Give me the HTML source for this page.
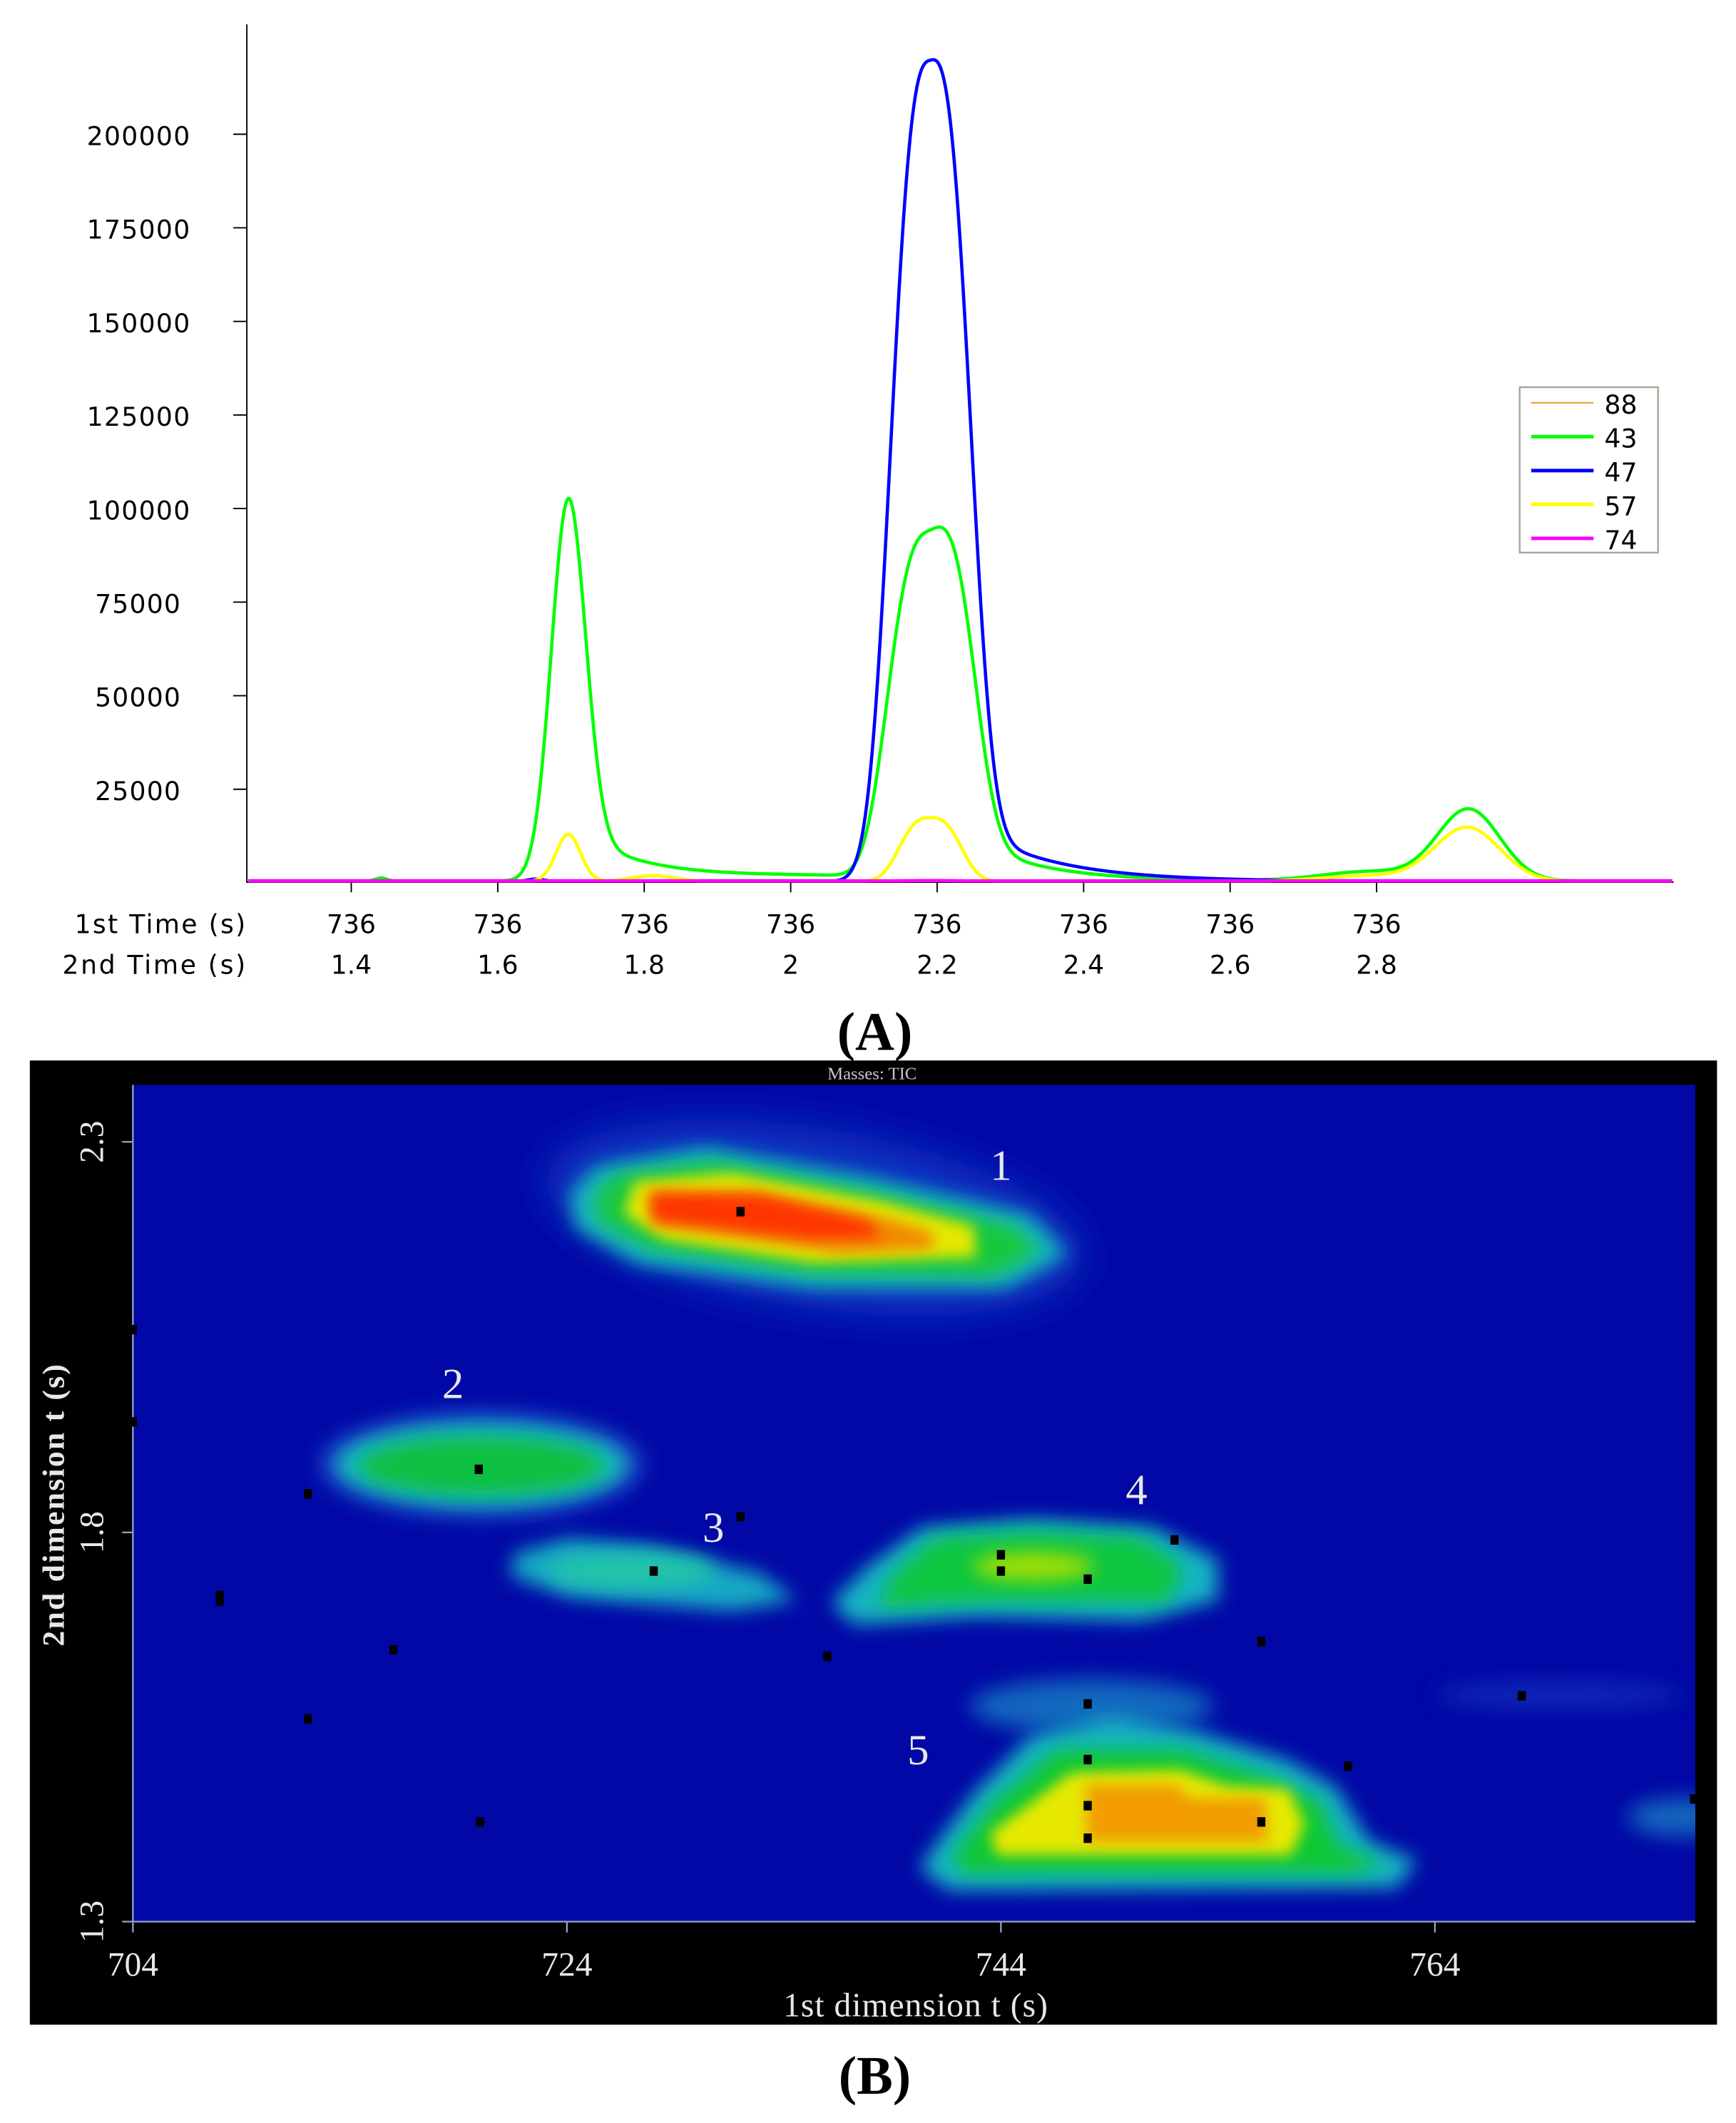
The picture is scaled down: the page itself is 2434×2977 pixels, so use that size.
<!DOCTYPE html>
<html><head><meta charset="utf-8">
<style>
html,body{margin:0;padding:0;background:#fff;}
svg{display:block;}
.t{font-family:"DejaVu Sans","Liberation Sans",sans-serif;font-size:19px;fill:#000;}
.s{font-family:"Liberation Serif",serif;fill:#e8e8e8;}
</style></head>
<body>
<svg id="sv" width="2434" height="2977" viewBox="0 0 1280 1565.5" preserveAspectRatio="none" xmlns="http://www.w3.org/2000/svg">
<defs>
<filter id="b8" x="-50%" y="-50%" width="200%" height="200%"><feGaussianBlur stdDeviation="8"/></filter>
<filter id="b6" x="-50%" y="-50%" width="200%" height="200%"><feGaussianBlur stdDeviation="7"/></filter>
<filter id="b4" x="-50%" y="-50%" width="200%" height="200%"><feGaussianBlur stdDeviation="5"/></filter>
<filter id="b14" x="-50%" y="-50%" width="200%" height="200%"><feGaussianBlur stdDeviation="14"/></filter>
</defs>
<rect width="1280" height="1565.5" fill="#fff"/>

<g stroke="#000" stroke-width="1">
<line x1="182" y1="18" x2="182" y2="651"/>
<line x1="182" y1="650.5" x2="1234" y2="650.5"/>
<line x1="172" y1="99" x2="182" y2="99"/>
<line x1="172" y1="168" x2="182" y2="168"/>
<line x1="172" y1="237" x2="182" y2="237"/>
<line x1="172" y1="306" x2="182" y2="306"/>
<line x1="172" y1="375" x2="182" y2="375"/>
<line x1="172" y1="444" x2="182" y2="444"/>
<line x1="172" y1="513" x2="182" y2="513"/>
<line x1="172" y1="582" x2="182" y2="582"/>
<line x1="259" y1="650" x2="259" y2="658"/>
<line x1="367" y1="650" x2="367" y2="658"/>
<line x1="475" y1="650" x2="475" y2="658"/>
<line x1="583" y1="650" x2="583" y2="658"/>
<line x1="691" y1="650" x2="691" y2="658"/>
<line x1="799" y1="650" x2="799" y2="658"/>
<line x1="907" y1="650" x2="907" y2="658"/>
<line x1="1015" y1="650" x2="1015" y2="658"/>
</g>
<g class="t">
<text x="64" y="107" textLength="76">200000</text>
<text x="64" y="176" textLength="76">175000</text>
<text x="64" y="245" textLength="76">150000</text>
<text x="64" y="314" textLength="76">125000</text>
<text x="64" y="383" textLength="76">100000</text>
<text x="70" y="452" textLength="63">75000</text>
<text x="70" y="521" textLength="63">50000</text>
<text x="70" y="590" textLength="63">25000</text>
</g>
<g class="t" text-anchor="middle">
<text x="259" y="688">736</text><text x="367" y="688">736</text><text x="475" y="688">736</text><text x="583" y="688">736</text>
<text x="691" y="688">736</text><text x="799" y="688">736</text><text x="907" y="688">736</text><text x="1015" y="688">736</text>
<text x="259" y="718">1.4</text><text x="367" y="718">1.6</text><text x="475" y="718">1.8</text><text x="583" y="718">2</text>
<text x="691" y="718">2.2</text><text x="799" y="718">2.4</text><text x="907" y="718">2.6</text><text x="1015" y="718">2.8</text>
</g>
<text class="t" x="55" y="688" textLength="126">1st Time (s)</text>
<text class="t" x="46" y="718" textLength="135">2nd Time (s)</text>

<g id="curves" fill="none" stroke-width="2.4" stroke-linejoin="round"></g>

<rect x="1120.5" y="285.5" width="102" height="122" fill="#fff" stroke="#a8a89a" stroke-width="1.3"/>
<line x1="1129" y1="297" x2="1175" y2="297" stroke="#f0901c" stroke-width="1"/>
<line x1="1129" y1="322" x2="1175" y2="322" stroke="#00ff00" stroke-width="2.6"/>
<line x1="1129" y1="347" x2="1175" y2="347" stroke="#0000ff" stroke-width="2.6"/>
<line x1="1129" y1="372" x2="1175" y2="372" stroke="#ffff00" stroke-width="2.6"/>
<line x1="1129" y1="397" x2="1175" y2="397" stroke="#ff00ff" stroke-width="2.6"/>
<g class="t">
<text x="1183" y="305">88</text><text x="1183" y="330">43</text><text x="1183" y="355">47</text><text x="1183" y="380">57</text><text x="1183" y="405">74</text>
</g>
<text x="645" y="774" text-anchor="middle" font-family="Liberation Serif,serif" font-weight="bold" font-size="40">(A)</text>

<rect x="22" y="782" width="1244" height="711" fill="#000"/>
<rect x="98" y="800" width="1152" height="617" fill="#0208a6"/>
<clipPath id="cp"><rect x="98" y="800" width="1152" height="617"/></clipPath>
<g clip-path="url(#cp)">
<ellipse cx="1150" cy="1250" rx="90" ry="10" fill="#1a48c8" opacity="0.5" filter="url(#b8)"/>
<ellipse cx="1240" cy="1340" rx="40" ry="14" fill="#1a90c8" opacity="0.7" filter="url(#b8)"/>
<!-- blob1 -->
<ellipse cx="600" cy="898" rx="200" ry="66" fill="#1030c0" transform="rotate(9 600 898)" filter="url(#b14)"/>
<polygon points="440,860 520,846 640,868 760,896 788,925 742,950 600,950 470,932 424,905 420,880" fill="#18b6c2" filter="url(#b6)"/>
<polygon points="455,866 525,856 640,878 745,903 768,922 732,941 600,939 480,921 440,900 440,878" fill="#14c83c" filter="url(#b6)"/>
<polygon points="468,871 540,865 650,886 718,904 720,927 600,931 490,914 460,895" fill="#e4e800" filter="url(#b4)"/>
<polygon points="478,878 560,879 660,900 688,909 688,921 620,924 480,903" fill="#f28a00" filter="url(#b4)"/>
<polygon points="480,880 560,881 640,900 650,913 600,914 482,900" fill="#ff3600" filter="url(#b4)"/>
<!-- blob2 -->
<ellipse cx="355" cy="1080" rx="120" ry="40" fill="#1240c4" filter="url(#b8)"/>
<ellipse cx="355" cy="1080" rx="108" ry="31" fill="#18b8c0" filter="url(#b6)"/>
<ellipse cx="355" cy="1081" rx="90" ry="21" fill="#10c040" filter="url(#b6)"/>
<!-- blob3 -->
<polygon points="380,1145 420,1134 480,1140 560,1160 588,1180 540,1188 420,1178 376,1162" fill="#18a8c4" filter="url(#b6)"/>
<ellipse cx="465" cy="1158" rx="62" ry="13" fill="#20c4a8" filter="url(#b6)"/>
<!-- blob4 -->
<polygon points="680,1126 760,1120 850,1126 898,1150 898,1180 842,1195 720,1192 630,1198 613,1182 640,1155" fill="#18b4c4" filter="url(#b6)"/>
<polygon points="690,1134 760,1129 840,1134 872,1155 862,1181 720,1181 646,1185 660,1160" fill="#10c640" filter="url(#b6)"/>
<ellipse cx="762" cy="1155" rx="45" ry="10" fill="#a8e000" filter="url(#b6)"/>
<!-- blob5 -->
<ellipse cx="805" cy="1258" rx="90" ry="20" fill="#1480c4" opacity="0.8" filter="url(#b8)"/>
<polygon points="690,1360 720,1320 760,1280 820,1266 880,1276 950,1298 985,1318 1010,1358 1045,1372 1030,1392 700,1394 678,1378" fill="#18b4c4" filter="url(#b6)"/>
<polygon points="702,1370 732,1330 780,1290 870,1290 940,1312 975,1330 985,1360 1020,1374 1000,1381 710,1381" fill="#10c830" filter="url(#b6)"/>
<polygon points="730,1352 790,1307 870,1305 905,1317 950,1319 962,1345 952,1368 735,1368" fill="#e6e800" filter="url(#b4)"/>
<polygon points="801,1316 869,1316 876,1326 933,1326 935,1358 801,1358" fill="#f29c00" filter="url(#b4)"/>
</g>
<g stroke="#9aa0c8" stroke-width="1.2">
<line x1="98" y1="800" x2="98" y2="1417"/><line x1="98" y1="1417" x2="1250" y2="1417"/>
<line x1="90" y1="842" x2="98" y2="842"/><line x1="90" y1="1130" x2="98" y2="1130"/><line x1="90" y1="1417" x2="98" y2="1417"/>
<line x1="98" y1="1417" x2="98" y2="1425"/><line x1="418" y1="1417" x2="418" y2="1425"/><line x1="738" y1="1417" x2="738" y2="1425"/><line x1="1058" y1="1417" x2="1058" y2="1425"/>
</g>
<g fill="#000">
<rect x="543" y="890" width="6" height="7"/><rect x="350" y="1080" width="6" height="7"/><rect x="224" y="1098" width="6" height="7"/>
<rect x="543" y="1115" width="6" height="7"/><rect x="479" y="1155" width="6" height="7"/><rect x="735" y="1143" width="6" height="7"/>
<rect x="735" y="1155" width="6" height="7"/><rect x="799" y="1161" width="6" height="7"/><rect x="863" y="1132" width="6" height="7"/>
<rect x="159" y="1173" width="6" height="11"/><rect x="287" y="1213" width="6" height="7"/><rect x="607" y="1218" width="6" height="7"/>
<rect x="927" y="1207" width="6" height="7"/><rect x="799" y="1253" width="6" height="7"/><rect x="1119" y="1247" width="6" height="7"/>
<rect x="224" y="1264" width="6" height="7"/><rect x="799" y="1294" width="6" height="7"/><rect x="991" y="1299" width="6" height="7"/>
<rect x="799" y="1328" width="6" height="7"/><rect x="927" y="1340" width="6" height="7"/><rect x="799" y="1352" width="6" height="7"/>
<rect x="351" y="1340" width="6" height="7"/><rect x="1246" y="1323" width="5" height="7"/><rect x="97" y="977" width="4" height="7"/><rect x="97" y="1045" width="4" height="7"/>
</g>
<g class="s" font-size="32" fill="#fff">
<text x="738" y="870" text-anchor="middle">1</text>
<text x="334" y="1031" text-anchor="middle">2</text>
<text x="526" y="1137" text-anchor="middle">3</text>
<text x="838" y="1109" text-anchor="middle">4</text>
<text x="677" y="1301" text-anchor="middle">5</text>
</g>
<text x="643" y="796" text-anchor="middle" font-family="Liberation Serif,serif" font-size="13" fill="#c8c8c8">Masses:  TIC</text>
<g class="s" font-size="25">
<text x="98" y="1457" text-anchor="middle">704</text>
<text x="418" y="1457" text-anchor="middle">724</text>
<text x="738" y="1457" text-anchor="middle">744</text>
<text x="1058" y="1457" text-anchor="middle">764</text>
<text x="675" y="1487" text-anchor="middle" textLength="195">1st dimension t (s)</text>
<text transform="translate(76,842) rotate(-90)" text-anchor="middle">2.3</text>
<text transform="translate(76,1130) rotate(-90)" text-anchor="middle">1.8</text>
<text transform="translate(76,1417) rotate(-90)" text-anchor="middle">1.3</text>
<text transform="translate(47,1110) rotate(-90)" text-anchor="middle" font-weight="bold" font-size="23" textLength="208">2nd dimension t (s)</text>
</g>
<text x="645" y="1544" text-anchor="middle" font-family="Liberation Serif,serif" font-weight="bold" font-size="40">(B)</text>
</svg>
<script>
(function(){
function g(x,c,s){var d=(x-c)/s;return Math.exp(-d*d/2);}
function sg(x,c,s,p){return Math.exp(-Math.pow(Math.abs(x-c)/s,p));}
function sig(z){return 1/(1+Math.exp(-z));}
function Y(v){return 651-v/25000*69;}
var f={
green:function(x){return 500+101000*g(x,419,12.5)+9000*Math.exp(-(x-440)/40)*sig((x-432)/5)
 +1500*sig((x-440)/10)*sig((640-x)/10)+92000*sg(x,686,37,2.9)+14000*Math.exp(-(x-705)/50)*sig((x-705)/8)
 +19000*g(x,1083,23)+2500*g(x,1010,35)+800*g(x,281,4);},
blue:function(x){return 400+218500*sg(x,686,34.5,2.8)+16000*Math.exp(-(x-710)/60)*sig((x-712)/8)+600*g(x,395,6);},
yellow:function(x){return 400+12600*g(x,419,9)+1500*g(x,482,16)+17000*sg(x,686,27,2.8)+14300*g(x,1082,24)+1500*g(x,1010,35);},
mag:function(x){return 300+300*g(x,686,40);}
};
var cols={green:"#00ff00",blue:"#0000ff",yellow:"#ffff00",mag:"#ff00ff"};
var G=document.getElementById("curves"),ns="http://www.w3.org/2000/svg";
["green","blue","yellow","mag"].forEach(function(k){
 var d="";for(var x=183;x<=1233;x+=1){var y=Math.min(Y(f[k](x)),649.5);d+=(x==183?"M":"L")+x+","+y.toFixed(2);}
 var p=document.createElementNS(ns,"path");p.setAttribute("d",d);p.setAttribute("stroke",cols[k]);G.appendChild(p);
});
})();
</script>
</body></html>
